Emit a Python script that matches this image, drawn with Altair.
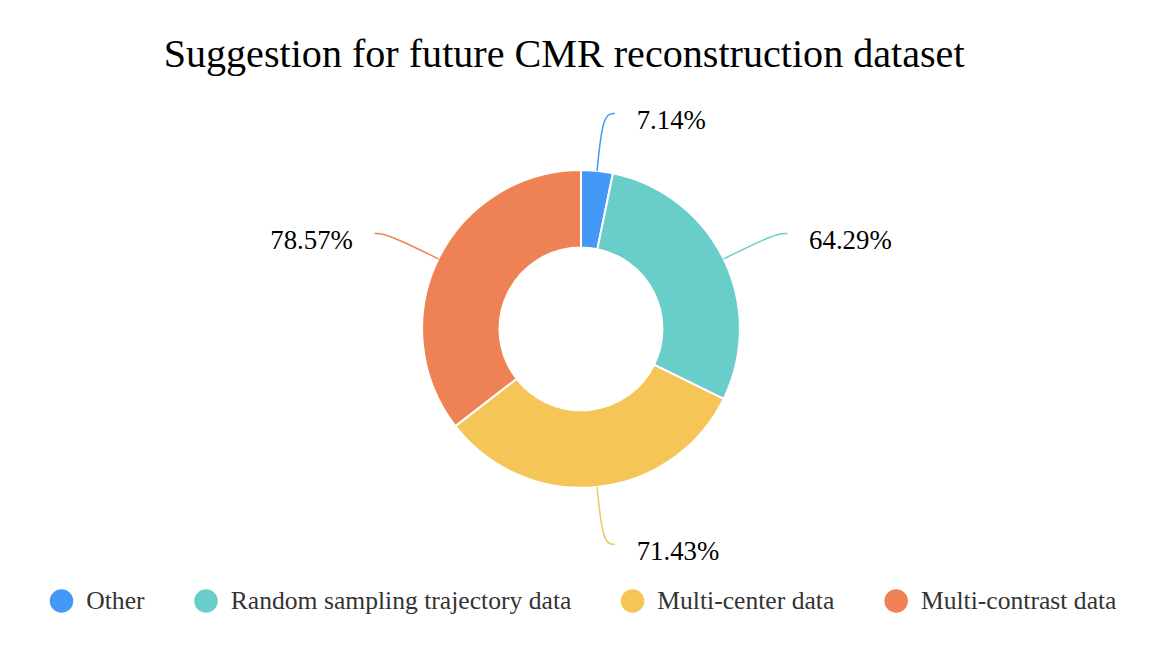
import math
import altair as alt
import pandas as pd

# ---- data ----
categories = ["Other", "Random sampling trajectory data", "Multi-center data", "Multi-contrast data"]
values = [7.14, 64.29, 71.43, 78.57]
colors = ["#4499F7", "#69CDCA", "#F5C558", "#EE8254"]
title_text = "Suggestion for future CMR reconstruction dataset"

# ---- layout parameters ----
W, H = 1140, 480
R_OUT, R_IN = 160, 82
L1, L2, GAP = 58, 12, 22
FONT = "Liberation Serif"

total = sum(values)
rows, line_rows = [], []
cum = 0.0
for i, (c, v) in enumerate(zip(categories, values)):
    mid = (cum + v / 2) / total * 2 * math.pi
    cum += v
    s, co = math.sin(mid), math.cos(mid)
    side = 1 if s >= 0 else -1
    p0 = (R_OUT * s, R_OUT * co)
    p1 = ((R_OUT + L1) * s, (R_OUT + L1) * co)
    p2 = (p1[0] + side * L2, p1[1])
    for k, p in enumerate([p0, p1, p2]):
        line_rows.append({"cat": c, "step": k, "lx": p[0], "ly": p[1]})
    rows.append({"cat": c, "idx": i, "value": v, "label": f"{v:.2f}%",
                 "tx": p2[0] + side * GAP, "ty": p2[1], "side": "right" if side > 0 else "left"})

df = pd.DataFrame(rows)
lines = pd.DataFrame(line_rows)

color = alt.Color("cat:N", scale=alt.Scale(domain=categories, range=colors),
                  legend=alt.Legend(orient="none", legendX=34, legendY=501, direction="horizontal",
                                    columns=4, title=None, labelFont=FONT, labelFontSize=25.8,
                                    labelColor="#333333", symbolType="circle", symbolSize=560,
                                    symbolStrokeWidth=0, columnPadding=48.5, labelOffset=12,
                                    labelLimit=0))

xs = alt.Scale(domain=[-W / 2, W / 2], nice=False, zero=False)
ys = alt.Scale(domain=[-H / 2, H / 2], nice=False, zero=False)

arc = alt.Chart(df).mark_arc(innerRadius=R_IN, outerRadius=R_OUT, stroke="white", strokeWidth=2).encode(
    theta=alt.Theta("value:Q", stack=True),
    color=color,
    order=alt.Order("idx:Q"),
)

leader = alt.Chart(lines).mark_line(interpolate="basis", strokeWidth=1.5).encode(
    x=alt.X("lx:Q", scale=xs, axis=None),
    y=alt.Y("ly:Q", scale=ys, axis=None),
    color=alt.Color("cat:N", scale=alt.Scale(domain=categories, range=colors), legend=None),
    detail="cat:N",
    order=alt.Order("step:Q"),
)

def label_layer(side, align):
    return alt.Chart(df).transform_filter(alt.datum.side == side).mark_text(
        align=align, baseline="middle", font=FONT, fontSize=27, color="#000000", dy=8
    ).encode(
        x=alt.X("tx:Q", scale=xs, axis=None),
        y=alt.Y("ty:Q", scale=ys, axis=None),
        text="label:N",
    )

chart = alt.layer(arc, leader, label_layer("right", "left"), label_layer("left", "right")).properties(
    width=W, height=H,
    padding={"top": 25, "left": 7, "right": 3, "bottom": 5},
    title=alt.TitleParams(title_text, font=FONT, fontSize=40.4, fontWeight="normal", color="#000000",
                          anchor="middle", dx=-17, offset=15),
).configure_view(stroke=None)

chart.save("out.html", embed_options={"renderer": "svg", "actions": False})
